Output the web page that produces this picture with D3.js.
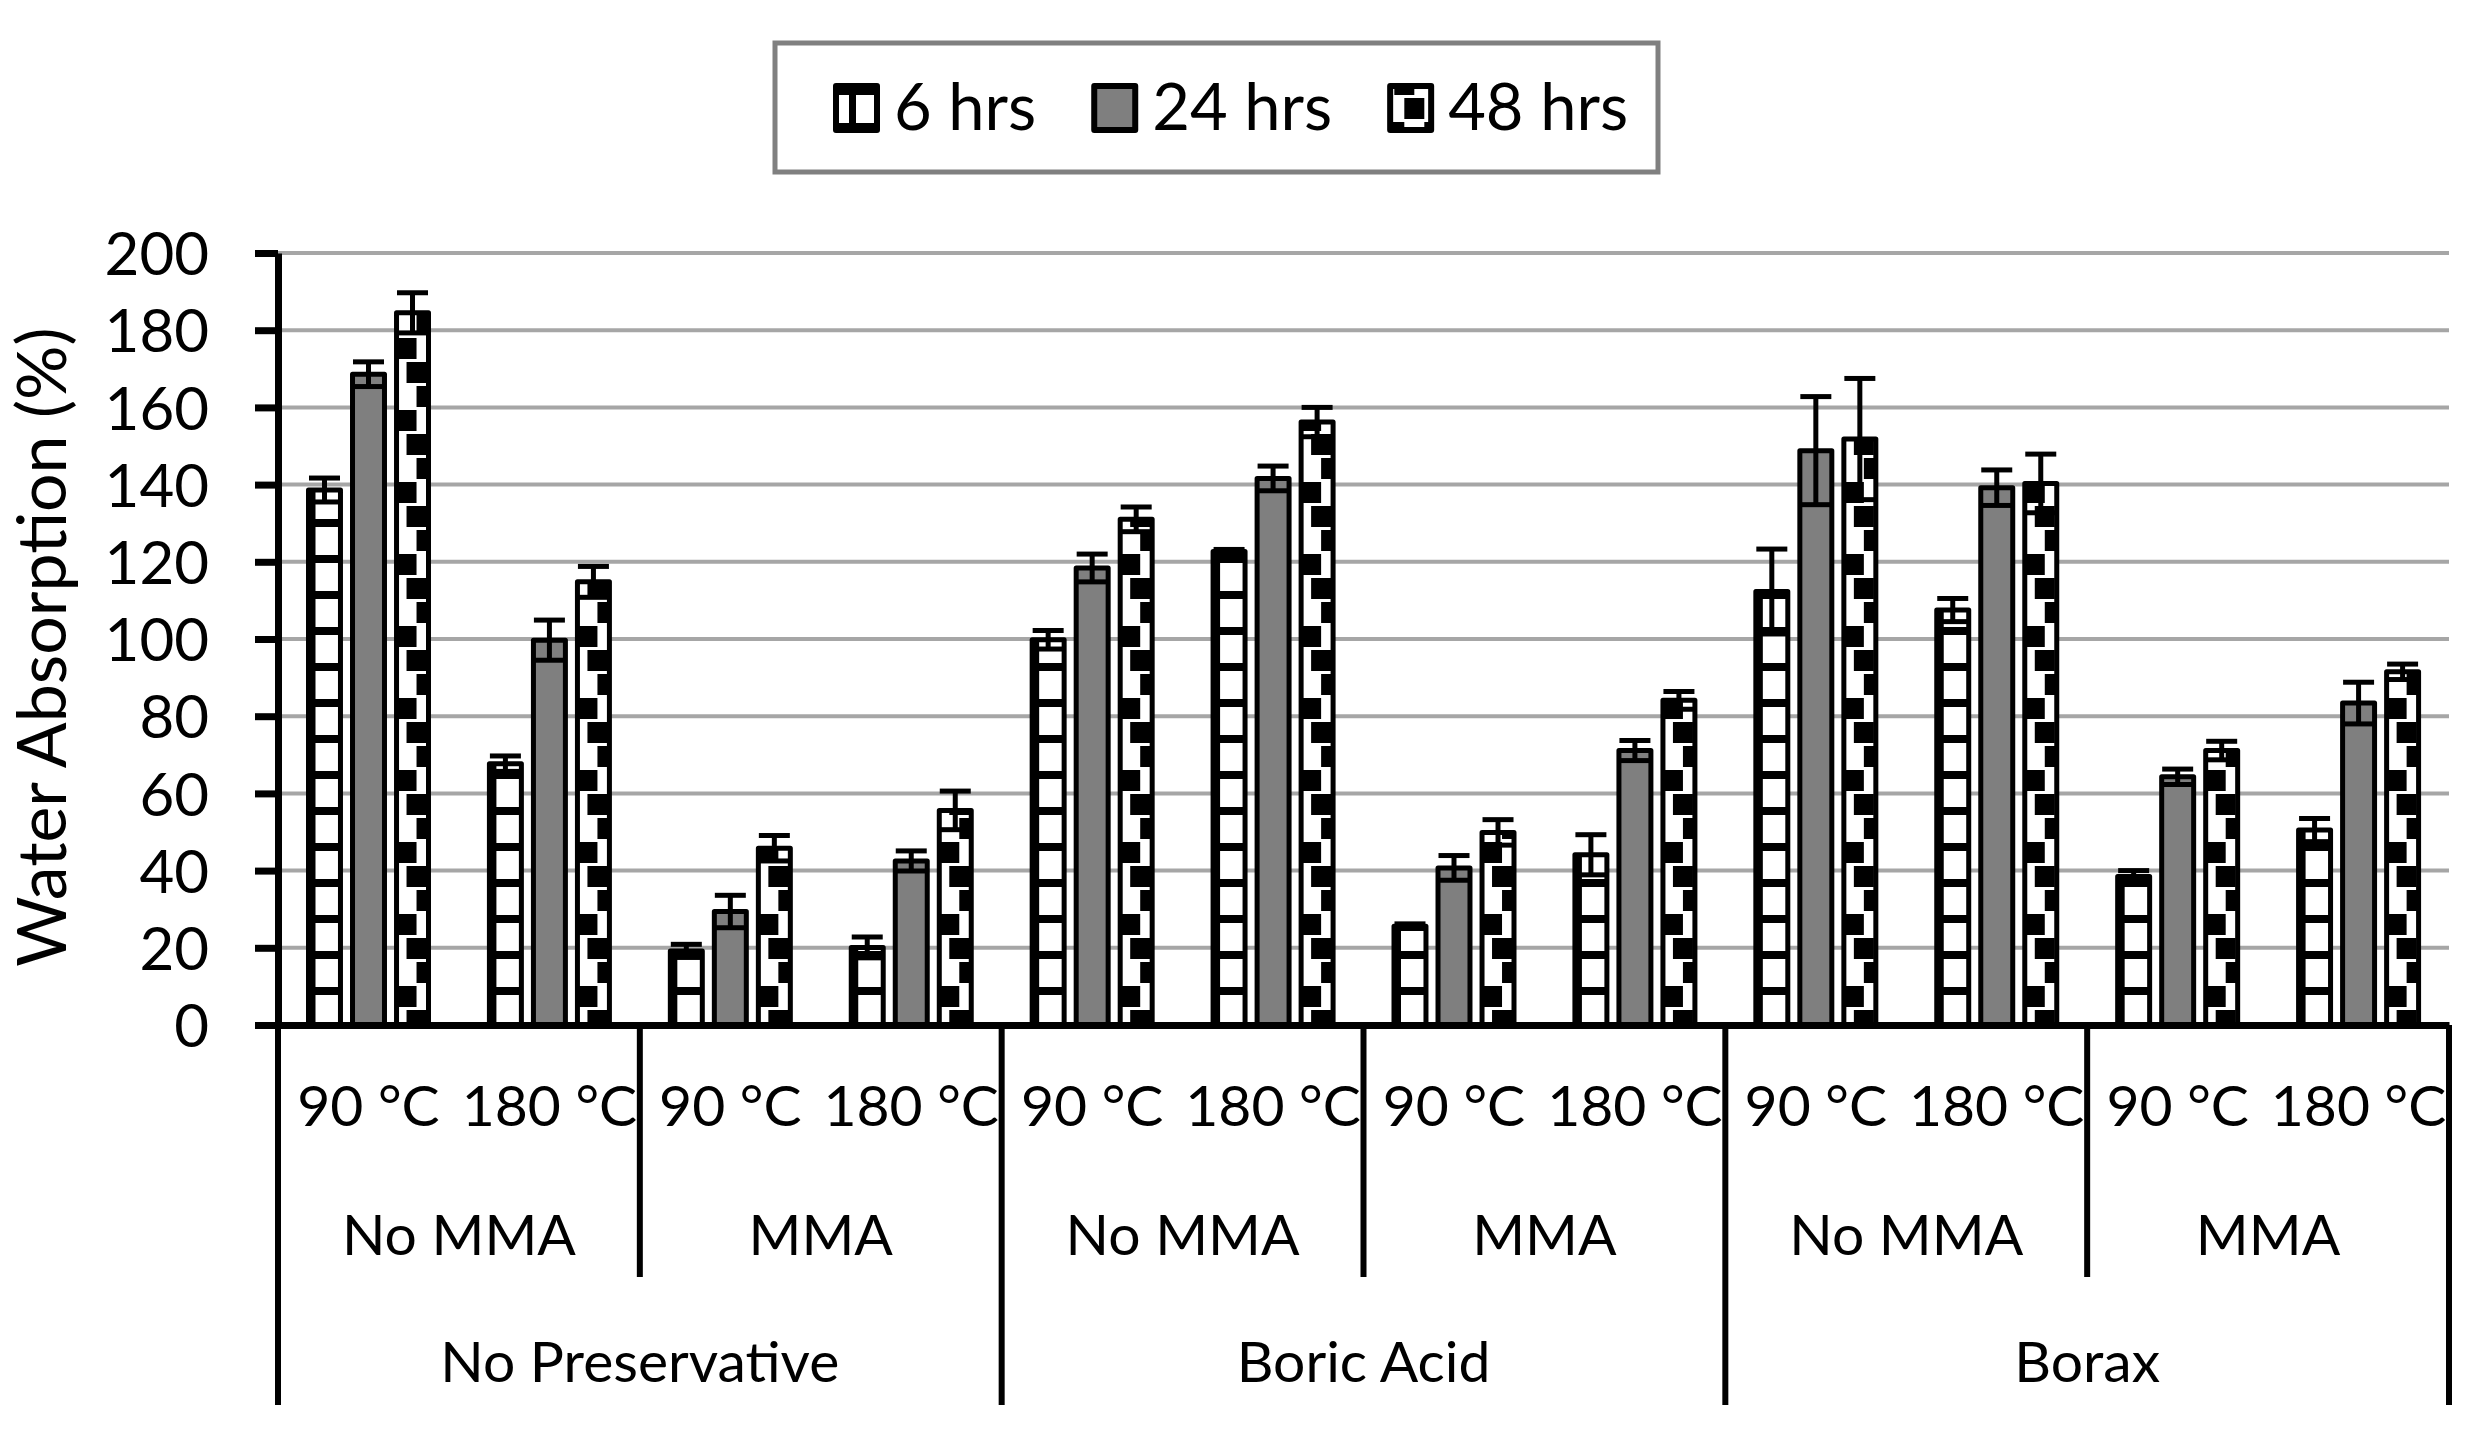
<!DOCTYPE html>
<html>
<head>
<meta charset="utf-8">
<script src="https://cdn.jsdelivr.net/npm/d3@7"></script>
<style>
  body { margin: 0; background: #fff; }
  svg { display: block; }
  text { font-family: Lato, "Open Sans", sans-serif; fill: #000; }
</style>
</head>
<body>
<svg id="chart"></svg>
<script>
// ---------- data ----------
const preservatives = ["No Preservative", "Boric Acid", "Borax"];
const treatments = ["No MMA", "MMA"];
const temps = ["90 °C", "180 °C"];
const seriesNames = ["6 hrs", "24 hrs", "48 hrs"];

// order: preservative > treatment > temperature
const values6h  = [138.6, 67.7, 19.2, 20.1,  99.8, 122.7, 25.6, 44.1, 112.3, 107.5, 38.5, 50.5];
const values24h = [168.6, 99.7, 29.4, 42.5, 118.4, 141.6, 40.7, 71.1, 148.8, 139.2, 64.3, 83.4];
const values48h = [184.5, 114.8, 45.8, 55.6, 131.0, 156.2, 49.9, 84.1, 151.8, 140.3, 71.1, 91.5];
const err6h  = [3.1, 2.0, 1.7, 2.7, 2.4, 0.5, 0.6, 5.2, 11.0, 3.0, 1.5, 3.0];
const err24h = [3.2, 5.2, 4.2, 2.6, 3.6, 3.2, 3.2, 2.6, 14.0, 4.6, 2.0, 5.4];
const err48h = [5.2, 4.0, 3.3, 5.0, 3.2, 3.8, 3.3, 2.3, 15.7, 7.6, 2.4, 2.0];

const yTicks = [0, 20, 40, 60, 80, 100, 120, 140, 160, 180, 200];
const yTitle = "Water Absorption (%)";

const seriesValues = [values6h, values24h, values48h];
const seriesErrors = [err6h, err24h, err48h];

// ---------- layout ----------
const width = 2481, height = 1441;
const plotLeft = 278, plotRight = 2449, plotTop = 253, plotBottom = 1025;
const barStroke = 5;

const svg = d3.select("#chart").attr("width", width).attr("height", height);
svg.append("rect").attr("width", width).attr("height", height).attr("fill", "#fff");
const defs = svg.append("defs");

const leaves = [];
preservatives.forEach((p, pi) => {
  treatments.forEach((t, ti) => {
    temps.forEach((k, ki) => {
      leaves.push({ key: `${pi}-${ti}-${ki}`, pi, ti, ki, temp: k });
    });
  });
});

const x0 = d3.scaleBand().domain(leaves.map(d => d.key)).range([plotLeft, plotRight]).padding(0);
const x1 = d3.scaleBand().domain(seriesNames).range([28, 153]).paddingInner(0.16);
const y = d3.scaleLinear().domain([0, 200]).range([plotBottom, plotTop]);

const bars = [];
leaves.forEach((leaf, i) => {
  seriesNames.forEach((s, si) => {
    bars.push({ i, si, key: leaf.key, v: seriesValues[si][i], e: seriesErrors[si][i] });
  });
});
const barX = d => x0(d.key) + x1(seriesNames[d.si]) + barStroke / 2;
const barW = x1.bandwidth() - barStroke;

// ---------- patterns ----------
// 6 hrs: ladder (horizontal bands + one vertical strip); 48 hrs: staircase of black blocks
function addPattern(id, si, px) {
  const h = si === 0 ? 36 : 72;
  const p = defs.append("pattern")
    .attr("id", id)
    .attr("patternUnits", "userSpaceOnUse")
    .attr("x", px)
    .attr("y", si === 0 ? 15 : 50)
    .attr("width", 40)
    .attr("height", h);
  p.append("rect").attr("width", 40).attr("height", h).attr("fill", "#fff");
  if (si === 0) {
    p.append("rect").attr("width", 40).attr("height", 8).attr("fill", "#000");
    p.append("rect").attr("width", 7).attr("height", 36).attr("fill", "#000");
  } else {
    [[0, 0], [10, 24], [20, 48]].forEach(([bx, by]) => {
      p.append("rect").attr("x", bx).attr("y", by).attr("width", 20).attr("height", 21).attr("fill", "#000");
    });
  }
}
const fillFor = (d, id) => d.si === 1 ? "#7f7f7f" : `url(#${id})`;

bars.filter(d => d.si !== 1).forEach(d => addPattern(`pat-${d.si}-${d.i}`, d.si, barX(d)));

// ---------- gridlines ----------
svg.append("g")
  .selectAll("line")
  .data(yTicks.filter(t => t > 0))
  .join("line")
  .attr("x1", plotLeft).attr("x2", plotRight)
  .attr("y1", d => y(d)).attr("y2", d => y(d))
  .attr("stroke", "#a6a6a6")
  .attr("stroke-width", 4);

// ---------- bars ----------
svg.append("g")
  .selectAll("rect")
  .data(bars)
  .join("rect")
  .attr("x", barX)
  .attr("y", d => y(d.v))
  .attr("width", barW)
  .attr("height", d => y(0) - y(d.v))
  .attr("fill", d => fillFor(d, `pat-${d.si}-${d.i}`))
  .attr("stroke", "#000")
  .attr("stroke-width", barStroke)
  .attr("stroke-linejoin", "round");

// ---------- error bars ----------
const errG = svg.append("g").attr("stroke", "#000").attr("stroke-width", 5);
const cx = d => barX(d) + barW / 2;
errG.selectAll(".stem").data(bars).join("line")
  .attr("class", "stem")
  .attr("x1", cx).attr("x2", cx)
  .attr("y1", d => y(d.v + d.e)).attr("y2", d => y(d.v - d.e));
errG.selectAll(".capTop").data(bars).join("line")
  .attr("class", "capTop")
  .attr("x1", d => cx(d) - 15.5).attr("x2", d => cx(d) + 15.5)
  .attr("y1", d => y(d.v + d.e)).attr("y2", d => y(d.v + d.e));
errG.selectAll(".capBot").data(bars).join("line")
  .attr("class", "capBot")
  .attr("x1", d => cx(d) - 15.5).attr("x2", d => cx(d) + 15.5)
  .attr("y1", d => y(d.v - d.e)).attr("y2", d => y(d.v - d.e));

// ---------- y axis ----------
const yAxis = svg.append("g")
  .attr("transform", `translate(${plotLeft},0)`)
  .call(d3.axisLeft(y).tickValues(yTicks).tickSize(23).tickSizeOuter(0).tickPadding(46));
yAxis.select(".domain").attr("stroke", "#000").attr("stroke-width", 7);
yAxis.selectAll(".tick line").attr("stroke", "#000").attr("stroke-width", 7);
yAxis.selectAll(".tick text")
  .attr("font-family", "Lato, sans-serif")
  .attr("font-size", 60)
  .attr("dy", "0.36em")
  .attr("fill", "#000");

svg.append("text")
  .attr("transform", `translate(66, ${(plotTop + plotBottom) / 2 + 8}) rotate(-90)`)
  .attr("text-anchor", "middle")
  .attr("font-size", 68)
  .text(yTitle);

// ---------- x axis (hierarchical) ----------
const xAxis = svg.append("g")
  .attr("transform", `translate(0,${plotBottom})`)
  .call(d3.axisBottom(x0).tickSize(0).tickSizeOuter(0).tickPadding(61)
    .tickFormat(k => leaves.find(l => l.key === k).temp));
xAxis.select(".domain").attr("stroke", "#000").attr("stroke-width", 7);
xAxis.selectAll(".tick text")
  .attr("font-family", "Lato, sans-serif")
  .attr("font-size", 57)
  .attr("fill", "#000");

// treatment groups
const tGroups = [];
preservatives.forEach((p, pi) => treatments.forEach((t, ti) => {
  const keys = leaves.filter(l => l.pi === pi && l.ti === ti).map(l => l.key);
  tGroups.push({ label: t, pi, ti, x0: x0(keys[0]), x1: x0(keys[keys.length - 1]) + x0.bandwidth() });
}));
const pGroups = preservatives.map((p, pi) => {
  const keys = leaves.filter(l => l.pi === pi).map(l => l.key);
  return { label: p, x0: x0(keys[0]), x1: x0(keys[keys.length - 1]) + x0.bandwidth() };
});

svg.append("g").selectAll("text").data(tGroups).join("text")
  .attr("x", d => (d.x0 + d.x1) / 2)
  .attr("y", 1255)
  .attr("text-anchor", "middle")
  .attr("font-size", 57)
  .text(d => d.label);

svg.append("g").selectAll("text").data(pGroups).join("text")
  .attr("x", d => (d.x0 + d.x1) / 2)
  .attr("y", 1382)
  .attr("text-anchor", "middle")
  .attr("font-size", 57)
  .text(d => d.label);

// separators
const sepG = svg.append("g").attr("stroke", "#000").attr("stroke-width", 6);
sepG.selectAll(".tsep").data(tGroups.filter(d => d.ti > 0)).join("line")
  .attr("class", "tsep")
  .attr("x1", d => d.x0).attr("x2", d => d.x0)
  .attr("y1", plotBottom).attr("y2", 1277);
const pEdges = pGroups.map(d => d.x0).concat([pGroups[pGroups.length - 1].x1]);
sepG.selectAll(".psep").data(pEdges).join("line")
  .attr("class", "psep")
  .attr("x1", d => d).attr("x2", d => d)
  .attr("y1", plotBottom).attr("y2", 1405);

// ---------- legend ----------
const legendBox = { x: 775, y: 43, w: 883, h: 129 };
svg.append("rect")
  .attr("x", legendBox.x).attr("y", legendBox.y)
  .attr("width", legendBox.w).attr("height", legendBox.h)
  .attr("fill", "#fff")
  .attr("stroke", "#808080")
  .attr("stroke-width", 5);

const legendG = svg.append("g");
const iconW = 41, iconH = 44, textGap = 17, itemGap = 58;
const items = seriesNames.map((s, si) => {
  const g = legendG.append("g");
  const t = g.append("text")
    .attr("font-size", 65)
    .attr("x", iconW + textGap)
    .attr("y", 130)
    .text(s);
  return { g, si, tw: t.node().getComputedTextLength() };
});
let cursor = 836;
items.forEach(d => {
  d.g.attr("transform", `translate(${cursor},0)`);
  if (d.si !== 1) addPattern(`leg-${d.si}`, d.si, d.si === 0 ? cursor + 17 : cursor + 4);
  d.g.insert("rect", "text")
    .attr("x", 0).attr("y", 86)
    .attr("width", iconW).attr("height", iconH)
    .attr("fill", d.si === 1 ? "#7f7f7f" : `url(#leg-${d.si})`)
    .attr("stroke", "#000")
    .attr("stroke-width", 6)
    .attr("stroke-linejoin", "round");
  cursor += iconW + textGap + d.tw + itemGap;
});
</script>
</body>
</html>
